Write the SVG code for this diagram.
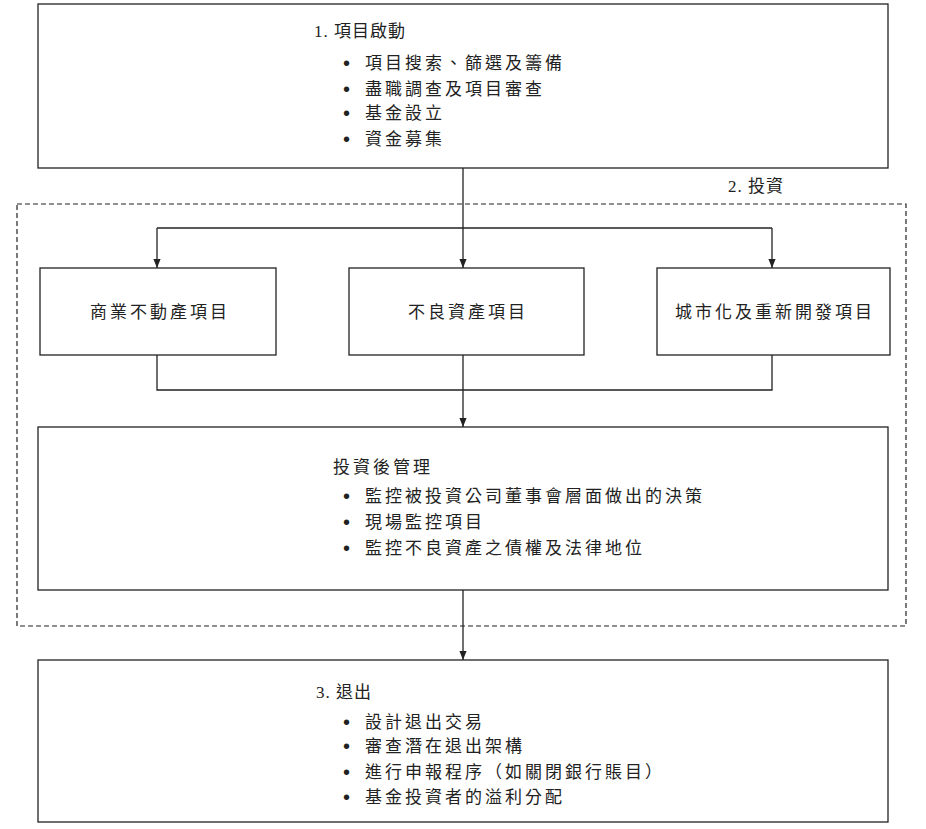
<svg xmlns="http://www.w3.org/2000/svg" width="926" height="829" viewBox="0 0 926 829">
<style>
.b{fill:#fff;stroke:#222;stroke-width:1.3}
.t{font-family:"Liberation Serif","Noto Sans CJK TC",serif;font-size:17px;letter-spacing:3px;fill:#222}
.c{text-anchor:middle}
.l{fill:none;stroke:#222;stroke-width:1.3}
.d{font-family:"Liberation Sans",sans-serif;font-size:20px;fill:#222}
</style>
<defs><marker id="a" viewBox="0 0 10 10" refX="10" refY="5" markerWidth="7" markerHeight="7" orient="auto"><path d="M0,1 L10,5 L0,9z" fill="#222"/></marker></defs>
<rect width="926" height="829" fill="#fff"/>
<g id="invest">
<rect x="17" y="204" width="889" height="422" fill="none" stroke="#222" stroke-width="1.2" stroke-dasharray="5,3"/>
<text class="t" x="728" y="192" style="letter-spacing:1px">2. 投資</text>
</g>
<g id="connectors">
<path class="l" d="M463,168 V268" marker-end="url(#a)"/>
<path class="l" d="M157,228 H772"/>
<path class="l" d="M157,228 V268" marker-end="url(#a)"/>
<path class="l" d="M772,228 V268" marker-end="url(#a)"/>
<path class="l" d="M157,355 V390 H772 V355"/>
<path class="l" d="M463,355 V427" marker-end="url(#a)"/>
<path class="l" d="M463,590 V660" marker-end="url(#a)"/>
</g>
<g id="start">
<rect class="b" x="38" y="4" width="850" height="164"/>
<text class="t" x="314" y="37" style="letter-spacing:1px">1. 項目啟動</text>
<text class="d" x="343" y="70">•</text><text class="t" x="365" y="69">項目搜索、篩選及籌備</text>
<text class="d" x="343" y="96">•</text><text class="t" x="365" y="95">盡職調查及項目審查</text>
<text class="d" x="343" y="120">•</text><text class="t" x="365" y="119">基金設立</text>
<text class="d" x="343" y="146">•</text><text class="t" x="365" y="145">資金募集</text>
</g>
<g id="commercial"><rect class="b" x="40" y="268" width="236" height="87"/><text class="t c" x="160" y="318">商業不動產項目</text></g>
<g id="npa"><rect class="b" x="349" y="268" width="235" height="87"/><text class="t c" x="468" y="318">不良資產項目</text></g>
<g id="urban"><rect class="b" x="657" y="268" width="233" height="87"/><text class="t c" x="775" y="318">城市化及重新開發項目</text></g>
<g id="post">
<rect class="b" x="38" y="427" width="850" height="163"/>
<text class="t" x="333" y="473">投資後管理</text>
<text class="d" x="343" y="503">•</text><text class="t" x="365" y="502">監控被投資公司董事會層面做出的決策</text>
<text class="d" x="343" y="529">•</text><text class="t" x="365" y="528">現場監控項目</text>
<text class="d" x="343" y="555">•</text><text class="t" x="365" y="554">監控不良資產之債權及法律地位</text>
</g>
<g id="exit">
<rect class="b" x="38" y="660" width="850" height="162"/>
<text class="t" x="316" y="698" style="letter-spacing:1px">3. 退出</text>
<text class="d" x="343" y="729">•</text><text class="t" x="365" y="728">設計退出交易</text>
<text class="d" x="343" y="753">•</text><text class="t" x="365" y="752">審查潛在退出架構</text>
<text class="d" x="343" y="779">•</text><text class="t" x="365" y="778">進行申報程序（如關閉銀行賬目）</text>
<text class="d" x="343" y="804">•</text><text class="t" x="365" y="803">基金投資者的溢利分配</text>
</g>
</svg>
